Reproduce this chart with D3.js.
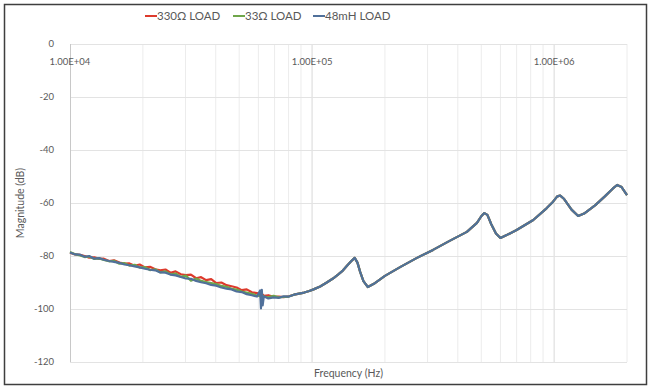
<!DOCTYPE html>
<html>
<head>
<meta charset="utf-8">
<script src="https://cdn.jsdelivr.net/npm/d3@7"></script>
<style>
  body { margin: 0; background: #fff; }
  svg text { font-family: Lato, "Open Sans", sans-serif; fill: #595959; }
</style>
</head>
<body>
<div id="chart"></div>
<script>
const width = 651,
    height = 389,
    margin = {top: 44, right: 24, bottom: 27, left: 70};

// series names + colours
const seriesNames = ["330Ω LOAD", "33Ω LOAD", "48mH LOAD"];
const seriesColors = ["#dd3a2c", "#6fa64a", "#50709a"];

// low-frequency (noisy) part, one array per load
const lowFreq = [10000, 10500, 11000, 11500, 12000, 12600, 13200, 13800, 14500, 15200,
    16000, 16800, 17600, 18500, 19400, 20400, 21400, 22500, 23600, 24800,
    26000, 27300, 28700, 30100, 31600, 33200, 34800, 36500, 38300, 40200,
    42200, 44300, 46500, 48800, 51200, 53700, 56400, 59200, 61000, 61500,
    62000, 62500, 63200, 66000, 69300, 72800, 76400, 80200];

const low330 = [-78.8, -79.4, -79.6, -80.0, -80.6, -80.5, -81.1, -81.0, -81.9, -81.6,
    -82.5, -82.9, -82.8, -83.7, -83.2, -84.3, -84.1, -85.0, -85.4, -85.1,
    -86.3, -85.8, -86.9, -87.2, -87.0, -88.4, -88.0, -89.1, -88.7, -90.2,
    -90.0, -91.0, -91.4, -91.9, -92.9, -92.6, -93.7, -94.0, -94.4, -94.1,
    -94.8, -94.6, -95.0, -94.8, -95.4, -95.3, -95.5, -95.2];

const low33 = [-78.5, -79.3, -79.8, -80.4, -80.2, -81.1, -80.9, -81.5, -82.0, -81.8,
    -82.9, -82.7, -83.6, -83.3, -84.4, -84.2, -85.3, -85.0, -86.2, -85.8,
    -86.9, -86.6, -87.9, -87.4, -89.3, -88.5, -89.4, -89.8, -90.2, -90.6,
    -91.3, -91.6, -92.4, -92.7, -93.4, -93.8, -94.3, -94.9, -95.2, -94.5,
    -95.4, -95.0, -95.3, -95.6, -95.0, -95.6, -95.4, -95.3];

const low48mH = [-78.7, -79.4, -79.5, -80.3, -80.0, -81.0, -80.8, -81.4, -81.9, -82.2,
    -82.6, -83.2, -83.5, -83.9, -84.3, -84.8, -85.2, -85.4, -86.2, -86.3,
    -87.0, -87.3, -87.9, -88.5, -88.6, -89.4, -89.9, -90.3, -90.9, -91.2,
    -91.9, -92.3, -92.6, -93.4, -93.6, -94.4, -94.8, -95.3, -93.0, -99.8,
    -92.8, -98.6, -95.2, -96.0, -95.6, -95.8, -95.2, -95.3];

// high-frequency part, identical for all loads
const tailFreq = [84200, 88400, 92800, 97400, 102000, 108000, 115000, 122000, 128000, 134000,
    140000, 145000, 150000, 154000, 158000, 163000, 170000, 180000, 200000, 231000,
    270000, 316000, 370000, 436000, 480000, 500000, 515000, 530000, 550000, 575000,
    600000, 640000, 700000, 820000, 930000, 990000, 1030000, 1060000, 1100000, 1180000,
    1257000, 1330000, 1480000, 1620000, 1750000, 1820000, 1900000, 2000000];

const tailDb = [-94.6, -94.2, -93.8, -93.2, -92.5, -91.5, -90.0, -88.5, -87.0, -85.5,
    -83.5, -82.0, -80.7, -82.5, -86.0, -89.5, -91.7, -90.5, -87.5, -84.2,
    -80.8, -77.7, -74.3, -70.9, -67.5, -65.0, -63.8, -64.5, -68.0, -71.5,
    -73.2, -72.0, -70.2, -66.4, -62.0, -59.5, -57.5, -57.2, -58.5, -62.5,
    -64.9, -64.0, -60.8, -57.5, -54.5, -53.2, -54.0, -57.0];

const yTicks = [0, -20, -40, -60, -80, -100, -120];
const xTicks = [1e4, 1e5, 1e6];

const lows = [low330, low33, low48mH];
const series = seriesNames.map((name, i) => ({
    name: name,
    color: seriesColors[i],
    values: lowFreq.map((f, j) => [f, lows[i][j]])
        .concat(tailFreq.map((f, j) => [f, tailDb[j]]))
}));

const svg = d3.select("#chart").append("svg")
    .attr("width", width)
    .attr("height", height);

// outer frame
svg.append("rect")
    .attr("x", 4.5).attr("y", 4.5)
    .attr("width", width - 9).attr("height", height - 9)
    .attr("fill", "none")
    .attr("stroke", "#3f3f3f")
    .attr("stroke-width", 1.5);

let x = d3.scaleLog()
    .domain([1e4, 2e6])
    .range([margin.left, width - margin.right]);

let y = d3.scaleLinear()
    .domain([-120, 0])
    .range([height - margin.bottom, margin.top]);

// minor + major vertical grid
let minor = [];
for (let d = 1e4; d < 2e6; d *= 10) {
    for (let k = 2; k <= 9; k++) if (d * k <= 2e6) minor.push(d * k);
}
svg.append("g").selectAll("line.minor")
    .data(minor)
    .join("line")
    .attr("x1", d => x(d)).attr("x2", d => x(d))
    .attr("y1", y(0)).attr("y2", y(-120))
    .attr("stroke", "#ececec")
    .attr("stroke-width", 1);

svg.append("g").selectAll("line.major")
    .data(xTicks.slice(1))
    .join("line")
    .attr("x1", d => x(d)).attr("x2", d => x(d))
    .attr("y1", y(0)).attr("y2", y(-120))
    .attr("stroke", "#d9d9d9")
    .attr("stroke-width", 1);

// horizontal grid
svg.append("g").selectAll("line")
    .data(yTicks)
    .join("line")
    .attr("x1", x(1e4)).attr("x2", x(2e6))
    .attr("y1", d => y(d) + 0.5).attr("y2", d => y(d) + 0.5)
    .attr("stroke", "#e3e3e3")
    .attr("stroke-width", 1);

// vertical axis line at 1e4
svg.append("line")
    .attr("x1", x(1e4) + 0.5).attr("x2", x(1e4) + 0.5)
    .attr("y1", y(0)).attr("y2", y(-120))
    .attr("stroke", "#c8c8c8");

// y labels
svg.append("g").selectAll("text")
    .data(yTicks)
    .join("text")
    .attr("x", margin.left - 16)
    .attr("y", d => y(d))
    .attr("dy", "0.35em")
    .attr("text-anchor", "end")
    .attr("font-size", 9.5)
    .text(d => d);

// x labels sit just under the 0 dB line
svg.append("g").selectAll("text")
    .data(xTicks)
    .join("text")
    .attr("x", d => x(d))
    .attr("y", y(0) + 21)
    .attr("text-anchor", "middle")
    .attr("font-size", 9.5)
    .text(d => d3.format(".2e")(d).toUpperCase().replace("E+", "E+0"));

// axis titles
svg.append("text")
    .attr("transform", `translate(24, ${(y(0) + y(-120)) / 2}) rotate(-90)`)
    .attr("text-anchor", "middle")
    .attr("font-size", 10.5)
    .text("Magnitude (dB)");

svg.append("text")
    .attr("x", (x(1e4) + x(2e6)) / 2)
    .attr("y", 377)
    .attr("text-anchor", "middle")
    .attr("font-size", 10.5)
    .text("Frequency (Hz)");

// curves
let line = d3.line()
    .x(d => x(d[0]))
    .y(d => y(d[1]));

svg.append("g").selectAll("path")
    .data(series)
    .join("path")
    .attr("d", d => line(d.values))
    .attr("fill", "none")
    .attr("stroke", d => d.color)
    .attr("stroke-width", 2.2)
    .attr("stroke-linejoin", "round");

// legend
const legendX = [145, 233, 313];
let legend = svg.append("g").selectAll("g")
    .data(series)
    .join("g")
    .attr("transform", (d, i) => `translate(${legendX[i]}, 16)`);

legend.append("line")
    .attr("x1", 0).attr("x2", 12)
    .attr("stroke", d => d.color)
    .attr("stroke-width", 2);

legend.append("text")
    .attr("x", 12)
    .attr("dy", "0.35em")
    .attr("font-size", 11.5)
    .text(d => d.name);
</script>
</body>
</html>
